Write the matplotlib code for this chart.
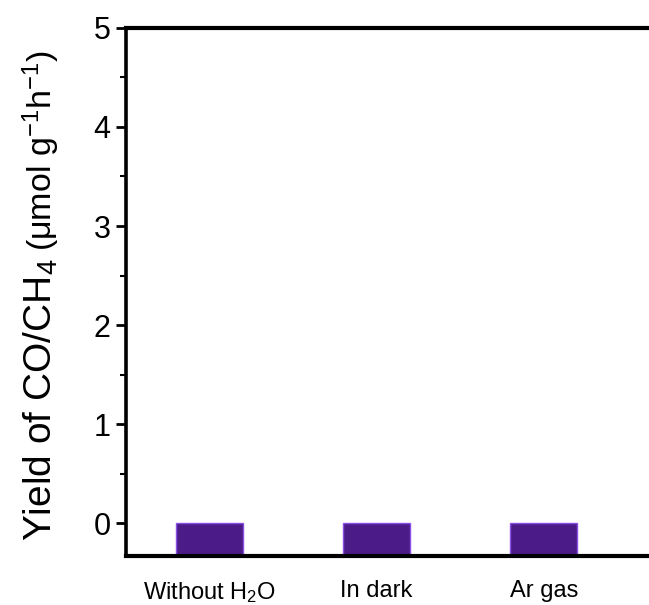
import matplotlib
matplotlib.use('Agg')
import matplotlib.pyplot as plt
import numpy as np

plt.rcParams['font.family'] = ['Liberation Sans', 'DejaVu Sans']
plt.rcParams['mathtext.fontset'] = 'custom'
plt.rcParams['mathtext.rm'] = 'Liberation Sans'
plt.rcParams['mathtext.it'] = 'Liberation Sans'

# data
conditions = ['Without H$_2$O', 'In dark', 'Ar gas']
yields = [0.0, 0.0, 0.0]

YMIN, YMAX = -0.33, 5.0

fig = plt.figure(figsize=(6.49, 6.05), dpi=100)
ax = fig.add_axes([0.194, 0.081, 0.806, 0.873])

x = np.arange(len(conditions))
ax.bar(x, np.array(yields) - YMIN, bottom=YMIN, width=0.4,
       color='#4B1C87', edgecolor='#8A50E6', linewidth=1.0, zorder=1)

ax.set_xlim(-0.5, 2.63)
ax.set_ylim(YMIN, YMAX)

ax.spines['right'].set_visible(False)
ax.spines['left'].set_linewidth(2.6)
ax.spines['top'].set_linewidth(3.0)
ax.spines['bottom'].set_linewidth(3.0)

ax.set_yticks([0, 1, 2, 3, 4, 5])
ax.set_yticks(np.arange(0.5, 5, 1.0), minor=True)
ax.tick_params(axis='y', which='major', length=7, width=2, direction='out',
               labelsize=22, pad=4)
ax.tick_params(axis='y', which='minor', length=4, width=1.5, direction='out')

ax.set_xticks(x)
ax.set_xticklabels(conditions, fontsize=17)
ax.tick_params(axis='x', which='major', length=0, pad=17)

# y label: large main part + smaller parenthetical, sharing a baseline
base_x = 0.080
main = fig.text(base_x, 0.106, 'Yield of CO/CH$_4$', rotation=90, fontsize=28,
                ha='left', va='baseline', rotation_mode='anchor')
fig.canvas.draw()
bb = main.get_window_extent(fig.canvas.get_renderer())
top = bb.y1 / fig.bbox.height
fig.text(base_x, top + 0.012, '(μmol g$^{-1}$h$^{-1}$)', rotation=90,
         fontsize=24.5, ha='left', va='baseline', rotation_mode='anchor')

fig.savefig('out.png', dpi=100)
